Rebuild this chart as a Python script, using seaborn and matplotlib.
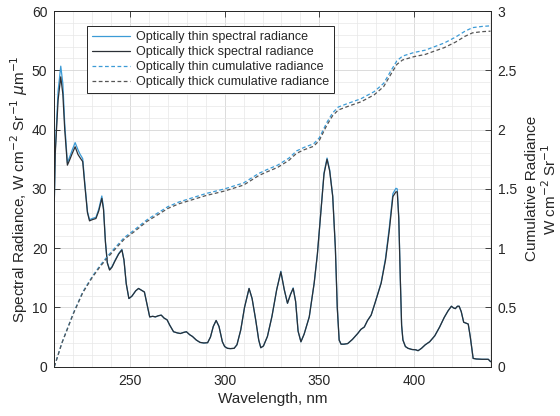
import matplotlib
matplotlib.use("Agg")
import matplotlib.pyplot as plt
from matplotlib.ticker import MultipleLocator
import seaborn as sns

# Spectral radiance, W cm^-2 Sr^-1 um^-1, versus wavelength (nm)
wl_spec = [210, 210.5, 212, 213.4, 214.5, 215.5, 216.9, 218, 219.5, 221, 222.5, 223.5, 225, 226,
           227.5, 228.6, 230, 232, 233.5, 235.1, 236, 237, 238, 239.2, 240.5, 242, 244, 245.7,
           246.8, 248, 249.4, 251, 253, 254.5, 256, 257.6, 259, 260.4, 262, 263.4, 265, 266.5,
           268, 269.6, 271, 273, 275, 276.6, 278.5, 279.8, 281.5, 283, 285, 287, 289, 291,
           292.5, 294, 295.5, 297, 298.8, 300, 301.5, 303, 305, 306.5, 308.5, 310.5, 312.9,
           314.5, 316.4, 318, 319.1, 320.5, 322.6, 325, 327.5, 329.7, 331.5, 333.2, 334.8, 336.2,
           337.5, 338.8, 340.3, 342, 344.7, 347.3, 349, 350.9, 352.5, 354.1, 355.5, 357.1, 358.5,
           359.5, 360.5, 361.5, 363, 365, 367.5, 370.3, 372, 373.8, 375.5, 377.4, 379.5, 382.7,
           385, 387, 388.9, 390.5, 391.2, 392, 392.8, 393.5, 394.2, 395.5, 396.9, 399, 401,
           402.2, 404, 406, 408.3, 411, 413.6, 416, 418, 419.8, 421, 421.9, 423, 423.9, 425,
           426.3, 428.7, 429.8, 431.3, 433, 436, 439.3, 440.5]

thick_spec = [28, 36, 45, 48.9, 46, 40, 34.0, 34.8, 36, 37.1, 35.8, 35.3, 34.6, 31,
              26, 24.6, 24.8, 25.0, 26.3, 28.4, 26.5, 21, 17.5, 16.3, 16.8, 17.8, 19.0, 19.7,
              18, 14, 11.5, 11.9, 12.8, 13.2, 12.9, 12.6, 10.5, 8.4, 8.5, 8.4, 8.6, 8.7,
              8.2, 7.9, 7.0, 5.9, 5.7, 5.6, 5.8, 5.9, 5.4, 5.1, 4.5, 4.1, 4.0, 4.05,
              5.0, 6.8, 7.8, 6.8, 4.2, 3.4, 3.1, 3.05, 3.1, 3.7, 6.2, 10, 13.2,
              11.5, 7.9, 4.5, 3.2, 3.5, 5.1, 8.5, 13, 16.0, 13, 10.7, 12.2, 13.2,
              11, 6, 4.2, 5.5, 8.4, 14.1, 19, 26.4, 32.5, 35.0, 33, 28.7, 20,
              10, 4.5, 3.8, 3.8, 3.9, 4.6, 5.6, 6.3, 6.7, 7.8, 8.7, 10.8, 14.1,
              18, 23, 28.7, 29.5, 29.5, 25, 15, 7, 4.5, 3.4, 3.1, 2.9, 2.85,
              2.7, 3.1, 3.7, 4.2, 5.2, 6.7, 8.3, 9.4, 10.2, 9.9, 9.8, 10.2, 10.2, 9.3,
              7.5, 7.2, 5, 1.4, 1.3, 1.25, 1.25, 0.85]

thin_spec = [28, 36.5, 46.5, 50.7, 47.8, 41, 34.4, 35.3, 36.6, 37.8, 36.6, 35.9, 35.1, 31.4,
             26.2, 24.8, 25.0, 25.2, 26.6, 28.8, 26.8, 21.2, 17.6, 16.4, 16.9, 17.9, 19.1, 19.8,
             18, 14, 11.5, 11.9, 12.8, 13.2, 12.9, 12.6, 10.5, 8.4, 8.5, 8.4, 8.6, 8.7,
             8.2, 7.9, 7.0, 5.9, 5.7, 5.6, 5.8, 5.9, 5.4, 5.1, 4.5, 4.1, 4.0, 4.05,
             5.0, 6.8, 7.8, 6.8, 4.2, 3.4, 3.1, 3.05, 3.1, 3.7, 6.2, 10, 13.2,
             11.5, 7.9, 4.5, 3.2, 3.5, 5.1, 8.5, 13, 16.1, 13, 10.7, 12.2, 13.3,
             11, 6, 4.2, 5.5, 8.4, 14.1, 19, 26.5, 32.7, 35.2, 33.2, 28.8, 20,
             10, 4.5, 3.8, 3.8, 3.9, 4.6, 5.6, 6.3, 6.7, 7.8, 8.7, 10.8, 14.2,
             18.3, 23.5, 29.2, 30.1, 30.0, 25.3, 15, 7, 4.5, 3.4, 3.1, 2.9, 2.85,
             2.7, 3.1, 3.7, 4.2, 5.2, 6.7, 8.3, 9.4, 10.2, 9.9, 9.8, 10.2, 10.2, 9.3,
             7.5, 7.2, 5, 1.4, 1.3, 1.25, 1.25, 0.85]

# Cumulative radiance, W cm^-2 Sr^-1
wl_cum = [210, 212, 214, 216.6, 220, 225, 230, 234, 238, 243, 247, 252, 259, 265, 270, 276,
          282, 290, 300, 306, 310, 314, 318, 322, 328, 334, 338, 342, 347, 350, 354, 357,
          360, 365, 372, 379, 384, 388, 391, 394, 400, 406, 411, 416, 422, 427, 431, 436, 440.5]

thin_cum = [0.00, 0.10, 0.20, 0.31, 0.45, 0.63, 0.76, 0.85, 0.93, 1.02, 1.09, 1.15, 1.24, 1.30,
            1.35, 1.39, 1.42, 1.46, 1.50, 1.53, 1.55, 1.59, 1.63, 1.66, 1.70, 1.76, 1.82, 1.85,
            1.88, 1.93, 2.06, 2.14, 2.19, 2.22, 2.26, 2.32, 2.39, 2.50, 2.58, 2.62, 2.65, 2.67,
            2.70, 2.73, 2.78, 2.83, 2.86, 2.87, 2.875]

thick_cum = [0.00, 0.10, 0.20, 0.305, 0.445, 0.623, 0.752, 0.84, 0.918, 1.007, 1.076, 1.136,
             1.226, 1.285, 1.335, 1.375, 1.404, 1.443, 1.482, 1.512, 1.532, 1.572, 1.612,
             1.641, 1.681, 1.741, 1.80, 1.83, 1.859, 1.908, 2.037, 2.116, 2.165, 2.195, 2.234,
             2.293, 2.362, 2.471, 2.55, 2.587, 2.615, 2.634, 2.663, 2.691, 2.738, 2.787,
             2.816, 2.826, 2.83]

sns.set_theme(style="white")
plt.rcParams["font.family"] = ["Liberation Sans", "DejaVu Sans"]
plt.rcParams["mathtext.fontset"] = "dejavusans"

axis_color = "#262626"
blue = "#3c9bd6"
dark = "#2b3036"
gray_dash = "#555555"

fig = plt.figure(figsize=(5.6, 4.16), dpi=100)
ax = fig.add_axes([0.097, 0.1185, 0.779, 0.855])
ax2 = ax.twinx()

sns.lineplot(x=wl_spec, y=thin_spec, ax=ax, color=blue, lw=0.9, label="Optically thin spectral radiance")
sns.lineplot(x=wl_spec, y=thick_spec, ax=ax, color=dark, lw=0.9, label="Optically thick spectral radiance")
sns.lineplot(x=wl_cum, y=thin_cum, ax=ax2, color=blue, lw=0.9, linestyle=(0, (3, 2)),
             label="Optically thin cumulative radiance")
sns.lineplot(x=wl_cum, y=thick_cum, ax=ax2, color=gray_dash, lw=0.9, linestyle=(0, (3, 2)),
             label="Optically thick cumulative radiance")

for a in (ax, ax2):
    if a.get_legend() is not None:
        a.get_legend().remove()

ax.set_xlim(210, 440.5)
ax.set_ylim(0, 60)
ax2.set_ylim(0, 3)

ax.xaxis.set_major_locator(MultipleLocator(50))
ax.xaxis.set_minor_locator(MultipleLocator(10))
ax.yaxis.set_major_locator(MultipleLocator(10))
ax.yaxis.set_minor_locator(MultipleLocator(2))
ax2.set_yticks([0, 0.5, 1, 1.5, 2, 2.5, 3])
ax2.set_yticklabels(["0", "0.5", "1", "1.5", "2", "2.5", "3"])

ax.set_axisbelow(True)
ax.grid(which="major", color="#d6d6d6", lw=0.6)
ax.grid(which="minor", color="#e8e8e8", lw=0.5)

ax.tick_params(which="major", direction="in", length=4, width=0.6, top=True, right=False,
               labelsize=10, colors=axis_color, pad=5)
ax.tick_params(which="minor", length=0)
ax2.tick_params(which="major", direction="in", length=4, width=0.6, labelsize=10,
                colors=axis_color, pad=5)
ax2.tick_params(which="minor", length=0)

for a in (ax, ax2):
    for s in a.spines.values():
        s.set_color(axis_color)
        s.set_linewidth(0.6)

ax.set_xlabel("Wavelength, nm", fontsize=11, color=axis_color, labelpad=3)
ax.set_ylabel(r"Spectral Radiance, W cm$^{-2}$ Sr$^{-1}$ $\mu$m$^{-1}$", fontsize=11,
              color=axis_color, labelpad=1)
ax2.set_ylabel("Cumulative Radiance\n" + r"W cm$^{-2}$ Sr$^{-1}$", fontsize=11,
               color=axis_color, labelpad=6, linespacing=1.1)

handles = ax.get_lines() + ax2.get_lines()
handles = [h for h in handles if h.get_label() and not h.get_label().startswith("_")]
leg = ax2.legend(handles=handles, labels=[h.get_label() for h in handles],
                 loc="upper left", bbox_to_anchor=(0.074, 0.958), borderaxespad=0,
                 fontsize=9, handlelength=3.1, handletextpad=0.45, labelspacing=0.25,
                 borderpad=0.4, fancybox=False, framealpha=1, edgecolor=axis_color)
leg.get_frame().set_linewidth(0.7)
for t in leg.get_texts():
    t.set_color(axis_color)

fig.savefig("out.png", dpi=100)
